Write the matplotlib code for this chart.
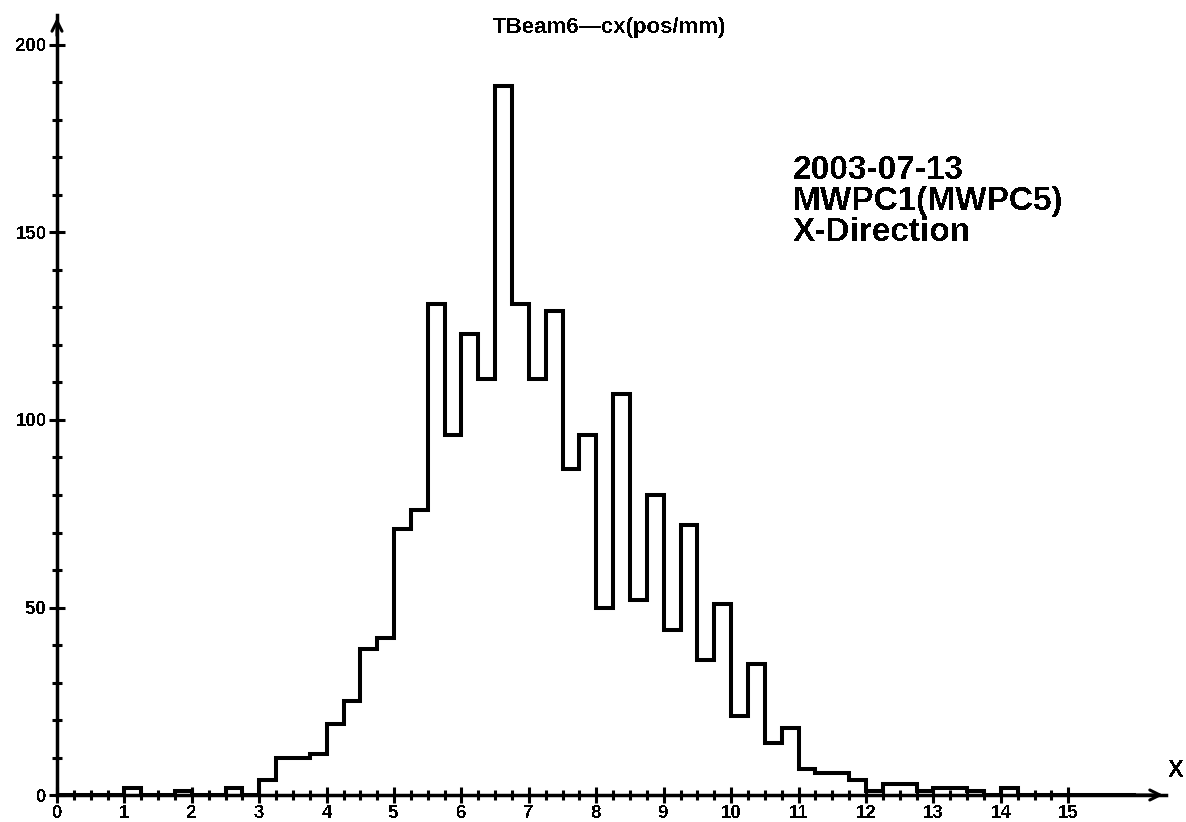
import numpy as np
import matplotlib
matplotlib.use("Agg")
import matplotlib.pyplot as plt
from matplotlib.ticker import MultipleLocator, FixedLocator

plt.rcParams['font.family'] = ['Liberation Sans', 'DejaVu Sans']
plt.rcParams['font.weight'] = 'bold'
plt.rcParams['text.antialiased'] = False
plt.rcParams['lines.antialiased'] = False

# beam profile counts, 0.25 wide bins from 0 to 16
bin_width = 0.25
counts = [0, 0, 0, 0,
          2, 0, 0, 1,
          0, 0, 2, 0,
          4, 10, 10, 11,
          19, 25, 39, 42,
          71, 76, 131, 96,
          123, 111, 189, 131,
          111, 129, 87, 96,
          50, 107, 52, 80,
          44, 72, 36, 51,
          21, 35, 14, 18,
          7, 6, 6, 4,
          1, 3, 3, 1,
          2, 2, 1, 0,
          2, 0, 0, 0,
          0, 0, 0, 0]
x_ticks = list(range(0, 16))
y_ticks = [0, 50, 100, 150, 200]
title = "TBeam6\u2014cx(pos/mm)"
info = "2003-07-13\nMWPC1(MWPC5)\nX-Direction"

edges = np.arange(len(counts) + 1) * bin_width

fig = plt.figure(figsize=(11.86, 8.22), dpi=100)
ax = fig.add_axes([57 / 1186, 27 / 822, 1109 / 1186, 780 / 822])

ax.stairs(counts, edges, color='black', lw=2.9, baseline=None)

ax.set_xlim(0, 16.45)
ax.set_ylim(0, 208)
for s in ['top', 'right']:
    ax.spines[s].set_visible(False)
for s in ['left', 'bottom']:
    ax.spines[s].set_linewidth(2.5)

ax.xaxis.set_major_locator(FixedLocator(x_ticks))
ax.xaxis.set_minor_locator(FixedLocator(np.arange(0, 15.01, bin_width)))
ax.yaxis.set_major_locator(FixedLocator(y_ticks))
ax.yaxis.set_minor_locator(MultipleLocator(10))
ax.tick_params(which='major', direction='inout', length=11, width=2.2,
               labelsize=13.5, pad=2)
ax.tick_params(which='minor', direction='inout', length=7, width=2.2)
for lab in ax.get_xticklabels() + ax.get_yticklabels():
    lab.set_fontweight('bold')

# arrow heads on both axes
ax.annotate('', xy=(1.0, 0), xytext=(0.97, 0), xycoords='axes fraction',
            arrowprops=dict(arrowstyle='->', lw=2.2, color='black',
                            mutation_scale=18), annotation_clip=False)
ax.annotate('', xy=(0, 1.0), xytext=(0, 0.97), xycoords='axes fraction',
            arrowprops=dict(arrowstyle='->', lw=2.2, color='black',
                            mutation_scale=18), annotation_clip=False)

fig.text(0.514, 0.966, title, ha='center', va='center', fontsize=16,
         fontweight='bold')
fig.text(0.991, 0.063, 'X', ha='center', va='center', fontsize=17,
         fontweight='bold')
fig.text(793 / 1186, 1 - 155 / 822, info, ha='left', va='top', fontsize=24,
         fontweight='bold', linespacing=1.0)

fig.savefig('out.png', dpi=100, facecolor='white')
